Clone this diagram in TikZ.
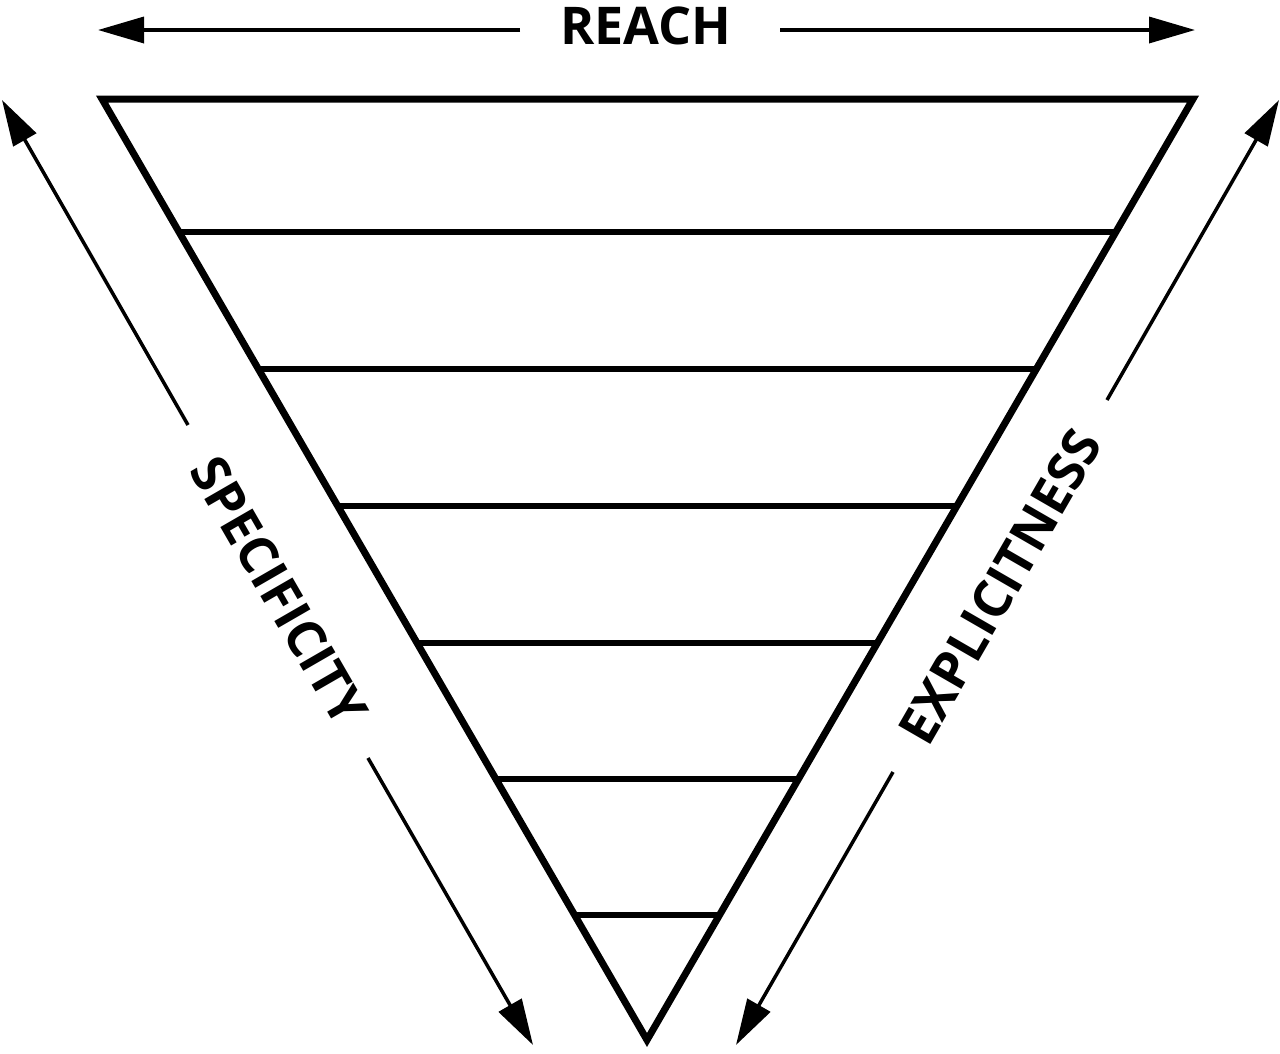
\documentclass[tikz,border=0pt]{standalone}
\usepackage{fontspec}
\setmainfont{Open Sans}
\usetikzlibrary{arrows.meta,calc}
\tikzset{
  edge/.style={line width=7pt, line join=miter},
  band/.style={line width=5.5pt},
  axis/.style={line width=3.5pt, -{Triangle[length=46pt,width=26pt]}},
  lbl/.style={font=\fontsize{52}{60}\selectfont\bfseries, inner sep=0pt, anchor=center}
}
\begin{document}
\begin{tikzpicture}[x=1pt,y=-1pt]
\useasboundingbox (0,0) rectangle (1280,1053);
% triangle corners
\coordinate (A) at (102,99);
\coordinate (B) at (1193,99);
\coordinate (C) at (647,1040);
\draw[edge] (A) -- (B) -- (C) -- cycle;
% bands
\foreach \yy/\nm in {232/b1,369/b2,506/b3,643/b4,779/b5,915/b6}{
  \pgfmathsetmacro{\tt}{(\yy-99)/941}
  \draw[band] ($(A)!\tt!(C)$) -- ($(B)!\tt!(C)$);
}
% labels
\node[lbl] (reach) at (646,26) {REACH};
\node[lbl, rotate=-60] (spec) at (279,591) {SPECIFICITY};
\node[lbl, rotate=60] (expl) at (1000,587) {EXPLICITNESS};
% arrow endpoints
\coordinate (rtL) at (520,30);
\coordinate (rhL) at (98,30);
\coordinate (rtR) at (780,30);
\coordinate (rhR) at (1195,30);
\coordinate (stU) at (188,425);
\coordinate (shU) at (2,100);
\coordinate (stD) at (368,758);
\coordinate (shD) at (533,1045);
\coordinate (etU) at (1107,400);
\coordinate (ehU) at (1279,100);
\coordinate (etD) at (893,772);
\coordinate (ehD) at (736,1045);
\draw[axis] (rtL) -- (rhL);
\draw[axis] (rtR) -- (rhR);
\draw[axis] (stU) -- (shU);
\draw[axis] (stD) -- (shD);
\draw[axis] (etU) -- (ehU);
\draw[axis] (etD) -- (ehD);
\end{tikzpicture}
\end{document}
